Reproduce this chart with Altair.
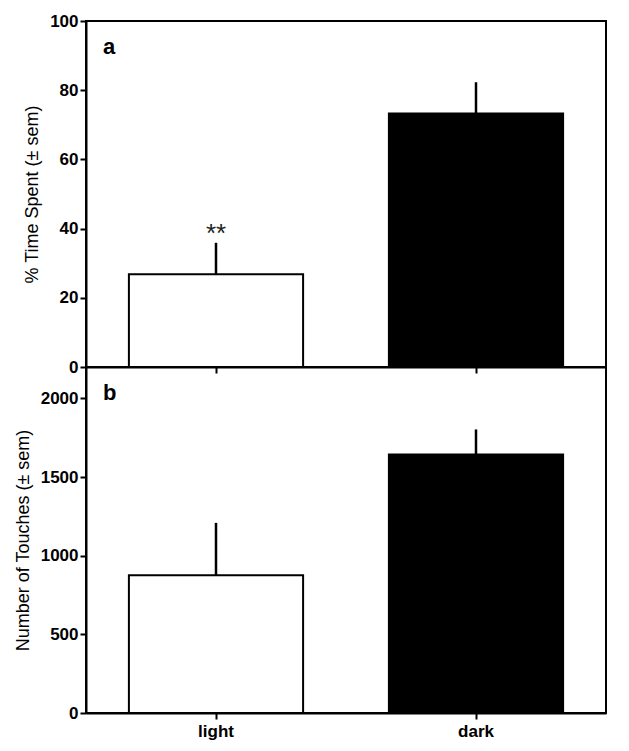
import altair as alt
import pandas as pd

# ---- data ----
conditions = ["light", "dark"]
time_mean = [26.8, 73.3]
time_sem = [9.1, 9.0]
touch_mean = [876, 1644]
touch_sem = [333, 159]
sig_marks = ["**", ""]
time_ticks = [0, 20, 40, 60, 80, 100]
touch_ticks = [0, 500, 1000, 1500, 2000]

FONT = "Arial"

df_a = pd.DataFrame({
    "cond": conditions,
    "mean": time_mean,
    "upper": [m + s for m, s in zip(time_mean, time_sem)],
    "sig": sig_marks,
})
df_b = pd.DataFrame({
    "cond": conditions,
    "mean": touch_mean,
    "upper": [m + s for m, s in zip(touch_mean, touch_sem)],
})

x_scale = alt.Scale(domain=conditions, paddingInner=0.33, paddingOuter=0.165)
fill_scale = alt.Scale(domain=conditions, range=["white", "black"])


def panel(df, ytitle, ydomain, yticks, show_x_labels, letter, sig=False):
    y_axis = alt.Axis(title=ytitle, values=yticks, grid=False, titlePadding=8, format="d")
    x_axis = alt.Axis(title=None, labels=show_x_labels, labelAngle=0, labelPadding=4)
    base = alt.Chart(df)
    bars = base.mark_bar(stroke="black", strokeWidth=2).encode(
        x=alt.X("cond:N", scale=x_scale, axis=x_axis, sort=conditions),
        y=alt.Y("mean:Q", scale=alt.Scale(domain=ydomain, nice=False), axis=y_axis),
        fill=alt.Fill("cond:N", scale=fill_scale, legend=None),
    )
    err = base.mark_rule(strokeWidth=2.5, color="black").encode(
        x=alt.X("cond:N", sort=conditions),
        y="mean:Q",
        y2="upper:Q",
    )
    layers = [bars, err]
    if sig:
        txt = base.mark_text(font=FONT, fontSize=26, color="#222", baseline="bottom", dy=4).encode(
            x=alt.X("cond:N", sort=conditions),
            y="upper:Q",
            text="sig:N",
        )
        layers.append(txt)
    lab = alt.Chart(pd.DataFrame({"label": [letter]})).mark_text(
        font=FONT, fontSize=22, fontWeight="bold", align="left", baseline="alphabetic", color="black"
    ).encode(x=alt.value(17), y=alt.value(33), text="label:N")
    layers.append(lab)
    return alt.layer(*layers).properties(width=520, height=346)


pa = panel(df_a, "% Time Spent (± sem)", [0, 100], time_ticks, False, "a", sig=True)
pb = panel(df_b, "Number of Touches (± sem)", [0, 2200], touch_ticks, True, "b")

chart = alt.vconcat(pa, pb, spacing=0, bounds="flush").configure_axis(
    domainColor="black", domainWidth=2, tickColor="black", tickWidth=2, tickSize=6,
    labelFont=FONT, labelFontSize=17, labelFontWeight="bold", labelColor="black",
    titleFont=FONT, titleFontSize=18, titleFontWeight="normal", titleColor="black",
).configure_view(stroke="black", strokeWidth=2).properties(
    background="white", padding={"left": 5, "top": 3, "right": 5, "bottom": 5}
)

chart.save("out.html", embed_options={"renderer": "svg", "actions": False})
